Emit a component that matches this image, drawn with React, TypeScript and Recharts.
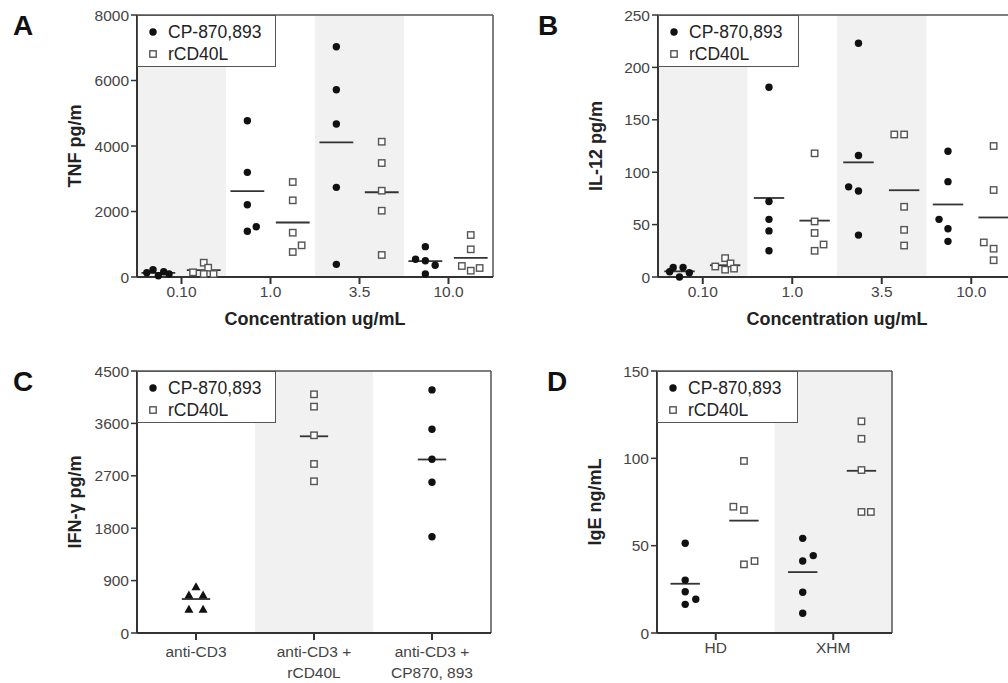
import React from "react";
import { ComposedChart, Scatter, XAxis, YAxis, ReferenceArea, ReferenceLine } from "recharts";

const FONT = '"Liberation Sans", Arial, Helvetica, sans-serif';

// ---- data ----
const concLabels = ["0.10", "1.0", "3.5", "10.0"];

const tnfCP = [
  [130, 220, 40, 160, 90],
  [4772, 3196, 2208, 1395, 1536],
  [7031, 5718, 4671, 2738, 387],
  [926, 540, 498, 357, 92],
];
const tnfCPJitter = [
  [-0.13, -0.06, 0, 0.06, 0.12],
  [0, 0, 0, 0, 0.1],
  [0, 0, 0, 0, 0],
  [0, -0.11, 0, 0.11, 0],
];
const tnfRcd = [
  [143, 437, 284, 92, 92],
  [2900, 2341, 1353, 763, 967],
  [4131, 3480, 2635, 2024, 672],
  [1282, 845, 336, 193, 275],
];
const tnfRcdJitter = [
  [-0.12, 0, 0.05, 0, 0.11],
  [0, 0, 0, 0, 0.1],
  [0, 0, 0, 0, 0],
  [0, 0, -0.1, 0, 0.1],
];

const il12CP = [
  [5, 9, 0, 9, 4],
  [181, 72, 55, 44, 25],
  [223, 116, 86, 82, 40],
  [120, 91, 55, 46, 34],
];
const il12CPJitter = [
  [-0.11, -0.07, 0, 0.04, 0.11],
  [0, 0, 0, 0, 0],
  [0, 0, -0.11, 0, 0],
  [0, 0, -0.1, 0, 0],
];
const il12Rcd = [
  [10, 18, 7, 13, 8],
  [118, 53, 42, 25, 31],
  [136, 136, 67, 45, 30],
  [125, 83, 33, 27, 16],
];
const il12RcdJitter = [
  [-0.11, 0, 0, 0.06, 0.1],
  [0, 0, 0, 0, 0.1],
  [-0.11, 0, 0, 0, 0],
  [0, 0, -0.11, 0, 0],
];

const ifnLabels = [["anti-CD3"], ["anti-CD3 +", "rCD40L"], ["anti-CD3 +", "CP870, 893"]];
const ifnAntiCD3 = [796, 653, 653, 407, 407];
const ifnAntiCD3Jitter = [0, -0.06, 0.06, -0.06, 0.06];
const ifnRcd = [4100, 3888, 3396, 2903, 2606];
const ifnCP = [4175, 3499, 2984, 2589, 1654];

const igeLabels = ["HD", "XHM"];
const igeCP = [
  [51.4, 30.3, 23.6, 19.3, 16.4],
  [54.2, 41.2, 44.3, 23.3, 11.3],
];
const igeCPJitter = [
  [0, 0, 0, 0.09, 0],
  [0, 0, 0.09, 0, 0],
];
const igeRcd = [
  [98.5, 72.3, 70.4, 39.3, 41.2],
  [121.2, 111.2, 93.3, 69.3, 69.3],
];
const igeRcdJitter = [
  [0, -0.09, 0, 0, 0.09],
  [0, 0, 0, 0, 0.08],
];

const seriesNames = ["CP-870,893", "rCD40L"];

// ---- helpers ----
type Pt = { x: number; y: number };
type Series = { key: string; groups: { g: number; vals: number[]; jit: number[] }[]; offset: number; shape: string };

const mean = (a: number[]) => a.reduce((s, v) => s + v, 0) / a.length;

function build(vals: number[], jit: number[], center: number): Pt[] {
  return vals.map((v, i) => ({ x: center + jit[i], y: v }));
}

const Dot = (p: any) => <circle cx={p.cx} cy={p.cy} r={3.7} fill="#111" />;
const Sq = (p: any) => (
  <rect x={p.cx - 3.2} y={p.cy - 3.2} width={6.4} height={6.4} fill="#fff" stroke="#555" strokeWidth={1.4} />
);
const Tri = (p: any) => (
  <polygon points={`${p.cx},${p.cy - 4.5} ${p.cx - 4.5},${p.cy + 3.5} ${p.cx + 4.5},${p.cy + 3.5}`} fill="#111" />
);
const shapes: Record<string, any> = { dot: Dot, sq: Sq, tri: Tri };

const tickStyle = { fontSize: 15.5, fill: "#444", fontFamily: FONT };
const titleStyle = { fontSize: 18, fontWeight: 700, fill: "#222", fontFamily: FONT };

function MultiTick(props: any) {
  const { x, y, payload, labels } = props;
  const lines: string[] = labels[Math.floor(payload.value)] || [];
  return (
    <text x={x} y={y + 15} textAnchor="middle" style={tickStyle as any} fill="#444">
      {lines.map((l, i) => (
        <tspan key={i} x={x} dy={i === 0 ? 0 : 21}>
          {l}
        </tspan>
      ))}
    </text>
  );
}

type PanelProps = {
  left: number;
  top: number;
  width: number;
  marginLeft: number;
  marginRight: number;
  nGroups: number;
  labels?: string[];
  multiLabels?: string[][];
  shaded: number[];
  yMax: number;
  yTicks: number[];
  yLabel: string;
  xLabel?: string;
  series: Series[];
  half: number;
  rightBorder: boolean;
};

function Panel(p: PanelProps) {
  const centers = Array.from({ length: p.nGroups }, (_, i) => i + 0.5);
  return (
    <div style={{ position: "absolute", left: p.left, top: p.top }}>
      <ComposedChart
        width={p.width}
        height={340}
        margin={{ top: 15, right: p.marginRight, left: p.marginLeft, bottom: 0 }}
      >
        <XAxis
          type="number"
          dataKey="x"
          domain={[0, p.nGroups]}
          ticks={centers}
          interval={0}
          allowDataOverflow
          height={63}
          tickSize={7}
          tickLine={{ stroke: "#333", strokeWidth: 2 }}
          axisLine={{ stroke: "#333", strokeWidth: 2 }}
          tick={
            p.multiLabels
              ? (tp: any) => <MultiTick {...tp} labels={p.multiLabels} />
              : tickStyle
          }
          tickFormatter={(v: number) => (p.labels ? p.labels[Math.floor(v)] : "")}
          label={p.xLabel ? { value: p.xLabel, position: "insideBottom", offset: 15, style: titleStyle } : undefined}
        />
        <YAxis
          type="number"
          dataKey="y"
          domain={[0, p.yMax]}
          ticks={p.yTicks}
          interval={0}
          width={124}
          tickSize={6}
          tickLine={{ stroke: "#333", strokeWidth: 1.5 }}
          axisLine={{ stroke: "#333", strokeWidth: 2 }}
          tick={tickStyle}
          label={{ value: p.yLabel, angle: -90, position: "center", style: titleStyle }}
        />
        {p.shaded.map((g) => (
          <ReferenceArea key={"b" + g} x1={g} x2={g + 1} fill="#f1f1f1" fillOpacity={1} stroke="none" />
        ))}
        <ReferenceLine y={p.yMax} stroke="#555" strokeWidth={1.5} />
        {p.rightBorder && <ReferenceLine x={p.nGroups} stroke="#555" strokeWidth={1.5} />}
        {p.series.map((s) => (
          <Scatter
            key={s.key}
            isAnimationActive={false}
            data={s.groups.flatMap((gr) => build(gr.vals, gr.jit, gr.g + 0.5 + s.offset))}
            shape={shapes[s.shape]}
          />
        ))}
        {p.series.flatMap((s) =>
          s.groups.map((gr) => {
            const m = mean(gr.vals);
            const c = gr.g + 0.5 + s.offset;
            return (
              <ReferenceLine
                key={s.key + "m" + gr.g}
                segment={[
                  { x: c - p.half, y: m },
                  { x: c + p.half, y: m },
                ]}
                stroke="#333"
                strokeWidth={1.8}
              />
            );
          })
        )}
      </ComposedChart>
    </div>
  );
}

function LegendBox({ left, top, width }: { left: number; top: number; width: number }) {
  const row = (i: number) => (
    <div style={{ position: "absolute", left: 0, top: i === 0 ? 5 : 27, height: 22, display: "flex", alignItems: "center" }}>
      <svg width={30} height={22} style={{ display: "block" }}>
        {i === 0 ? (
          <circle cx={15} cy={11} r={3.7} fill="#111" />
        ) : (
          <rect x={11.8} y={7.8} width={6.4} height={6.4} fill="#fff" stroke="#555" strokeWidth={1.4} />
        )}
      </svg>
      <span style={{ fontSize: 17.5, color: "#222", lineHeight: "22px" }}>{seriesNames[i]}</span>
    </div>
  );
  return (
    <div
      style={{
        position: "absolute",
        left,
        top,
        width,
        height: 52,
        border: "1.5px solid #555",
        background: "#fff",
        boxSizing: "border-box",
        fontFamily: FONT,
      }}
    >
      {row(0)}
      {row(1)}
    </div>
  );
}

const Letter = ({ t, left, top }: { t: string; left: number; top: number }) => (
  <div style={{ position: "absolute", left, top, fontSize: 28, fontWeight: 700, fontFamily: FONT, color: "#111", lineHeight: 1 }}>
    {t}
  </div>
);

const grp = (vals: number[][], jit: number[][]) => vals.map((v, g) => ({ g, vals: v, jit: jit[g] }));

export default function App() {
  return (
    <div
      style={{
        position: "absolute",
        left: 0,
        top: 0,
        width: 1008,
        height: 683,
        overflow: "hidden",
        background: "#fff",
        fontFamily: FONT,
      }}
    >
      <Panel
        left={0}
        top={0}
        width={500}
        marginLeft={13}
        marginRight={7}
        nGroups={4}
        labels={concLabels}
        shaded={[0, 2]}
        yMax={8000}
        yTicks={[0, 2000, 4000, 6000, 8000]}
        yLabel="TNF pg/m"
        xLabel="Concentration ug/mL"
        half={0.19}
        rightBorder
        series={[
          { key: "cp", groups: grp(tnfCP, tnfCPJitter), offset: -0.26, shape: "dot" },
          { key: "rcd", groups: grp(tnfRcd, tnfRcdJitter), offset: 0.25, shape: "sq" },
        ]}
      />
      <Panel
        left={520}
        top={0}
        width={500}
        marginLeft={14}
        marginRight={4}
        nGroups={4}
        labels={concLabels}
        shaded={[0, 2]}
        yMax={250}
        yTicks={[0, 50, 100, 150, 200, 250]}
        yLabel="IL-12 pg/m"
        xLabel="Concentration ug/mL"
        half={0.17}
        rightBorder
        series={[
          { key: "cp", groups: grp(il12CP, il12CPJitter), offset: -0.26, shape: "dot" },
          { key: "rcd", groups: grp(il12Rcd, il12RcdJitter), offset: 0.25, shape: "sq" },
        ]}
      />
      <Panel
        left={0}
        top={356}
        width={500}
        marginLeft={13}
        marginRight={9}
        nGroups={3}
        multiLabels={ifnLabels}
        shaded={[1]}
        yMax={4500}
        yTicks={[0, 900, 1800, 2700, 3600, 4500]}
        yLabel="IFN-γ pg/m"
        half={0.12}
        rightBorder
        series={[
          { key: "cd3", groups: [{ g: 0, vals: ifnAntiCD3, jit: ifnAntiCD3Jitter }], offset: 0, shape: "tri" },
          { key: "rcd", groups: [{ g: 1, vals: ifnRcd, jit: [0, 0, 0, 0, 0] }], offset: 0, shape: "sq" },
          { key: "cp", groups: [{ g: 2, vals: ifnCP, jit: [0, 0, 0, 0, 0] }], offset: 0, shape: "dot" },
        ]}
      />
      <Panel
        left={520}
        top={356}
        width={380}
        marginLeft={13}
        marginRight={8}
        nGroups={2}
        labels={igeLabels}
        shaded={[1]}
        yMax={150}
        yTicks={[0, 50, 100, 150]}
        yLabel="IgE ng/mL"
        half={0.125}
        rightBorder
        series={[
          { key: "cp", groups: grp(igeCP, igeCPJitter), offset: -0.26, shape: "dot" },
          { key: "rcd", groups: grp(igeRcd, igeRcdJitter), offset: 0.24, shape: "sq" },
        ]}
      />
      <LegendBox left={137} top={15} width={139} />
      <LegendBox left={658} top={15} width={141} />
      <LegendBox left={137} top={371} width={139} />
      <LegendBox left={657} top={371} width={141} />
      <Letter t="A" left={13} top={12} />
      <Letter t="B" left={538} top={12} />
      <Letter t="C" left={13} top={368} />
      <Letter t="D" left={547} top={368} />
    </div>
  );
}
